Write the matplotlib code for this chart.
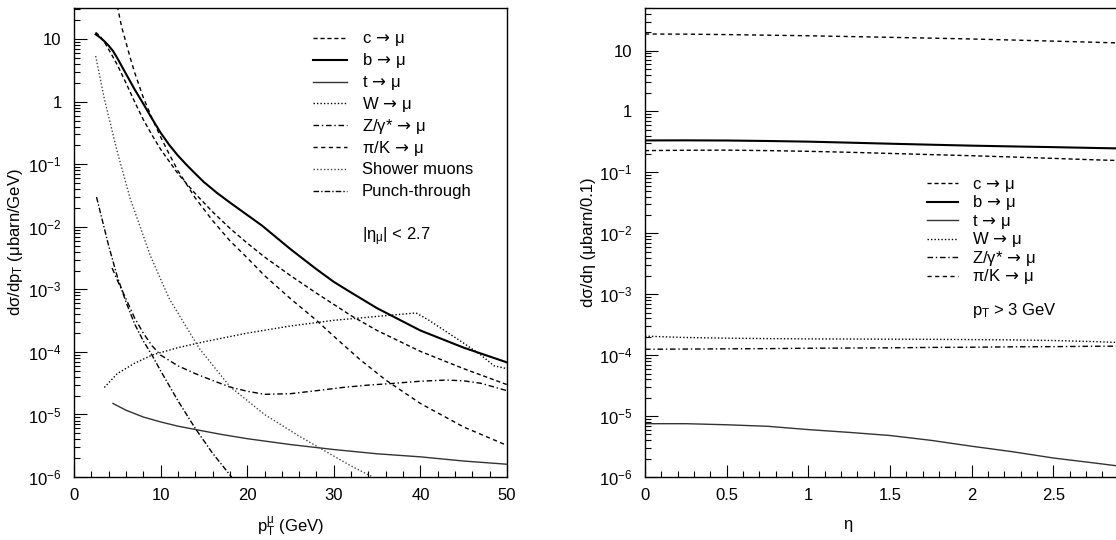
import math
import matplotlib
matplotlib.use("Agg")
import matplotlib.pyplot as plt
import matplotlib.ticker as mticker
from matplotlib.lines import Line2D

plt.rcParams['font.family'] = ['Liberation Sans', 'DejaVu Sans']
plt.rcParams['mathtext.fontset'] = 'custom'
plt.rcParams['mathtext.rm'] = 'Liberation Sans'
plt.rcParams['mathtext.it'] = 'Liberation Sans:italic'
plt.rcParams['mathtext.bf'] = 'Liberation Sans:bold'
plt.rcParams['mathtext.sf'] = 'DejaVu Sans'
plt.rcParams['font.size'] = 12

# ---- panel izquierdo: dsigma/dpT ----
pt_b = [2.5, 3, 3.5, 4, 4.5, 5, 6, 7, 8, 9, 10, 11, 12, 13, 14, 15, 16.5, 18, 20,
        21.7, 25, 28, 30, 32, 35, 40, 45, 50]
b_pt = [12, 10.7, 9.3, 7.9, 6.5, 5.0, 2.8, 1.58, 0.93, 0.54, 0.32, 0.204, 0.138,
        0.098, 0.071, 0.052, 0.035, 0.0245, 0.0155, 0.0105, 4.4e-3, 2.1e-3,
        1.32e-3, 8.9e-4, 5.0e-4, 2.2e-4, 1.17e-4, 6.8e-5]

pt_c = [2.5, 3, 3.5, 4, 4.5, 5, 6, 7, 8, 9, 10, 12, 14, 16, 18, 20, 22, 25, 28, 30,
        32, 35, 40, 45, 50]
c_pt = [12.9, 11.2, 9.1, 6.9, 5.2, 3.9, 2.0, 1.0, 0.52, 0.295, 0.174, 0.071, 0.034,
        0.0174, 9.5e-3, 5.5e-3, 3.3e-3, 1.66e-3, 8.7e-4, 5.75e-4, 3.8e-4, 2.2e-4,
        1.02e-4, 5.4e-5, 3.0e-5]

pt_pik = [5.0, 5.5, 6, 6.5, 7, 8, 9, 10, 11, 12, 14, 16, 18, 20, 22, 25, 28, 30, 33,
          36, 40, 45, 50]
pik_pt = [34, 15.8, 8.9, 5.0, 2.95, 1.17, 0.55, 0.275, 0.145, 0.079, 0.029, 0.0126,
          6.0e-3, 3.2e-3, 1.66e-3, 7.1e-4, 3.2e-4, 1.78e-4, 7.6e-5, 3.55e-5, 1.5e-5,
          6.3e-6, 3.2e-6]

pt_t = [4.5, 6, 8, 10, 12, 14, 17, 20, 25, 30, 35, 40, 45, 50]
t_pt = [1.5e-5, 1.17e-5, 9.1e-6, 7.6e-6, 6.5e-6, 5.75e-6, 4.8e-6, 4.1e-6, 3.3e-6,
        2.75e-6, 2.35e-6, 2.1e-6, 1.8e-6, 1.6e-6]

pt_w = [3.5, 5, 7, 9, 12, 15, 20, 25, 30, 35, 39.5, 41, 43, 45, 47, 48.5, 50]
w_pt = [2.7e-5, 4.5e-5, 6.6e-5, 8.9e-5, 1.17e-4, 1.45e-4, 2.0e-4, 2.6e-4, 3.2e-4,
        3.7e-4, 4.2e-4, 3.2e-4, 2.1e-4, 1.38e-4, 8.9e-5, 6.0e-5, 5.4e-5]

pt_z = [4.4, 5, 6, 7, 8, 9, 10, 12, 14, 16, 18, 20, 22, 25, 28, 31, 34, 37, 40,
        43, 45, 47, 50]
z_pt = [2.2e-3, 1.4e-3, 7.1e-4, 3.5e-4, 2.0e-4, 1.26e-4, 8.9e-5, 6.0e-5, 4.5e-5,
        3.5e-5, 2.75e-5, 2.35e-5, 2.1e-5, 2.15e-5, 2.4e-5, 2.7e-5, 2.95e-5,
        3.15e-5, 3.4e-5, 3.55e-5, 3.45e-5, 3.15e-5, 2.4e-5]

pt_sh = [2.5, 3.5, 5, 6.5, 8.8, 11, 14.5, 18, 22, 26, 29.2, 32, 34.5]
sh_pt = [5.4, 1.12, 0.158, 0.028, 3.5e-3, 7.1e-4, 1.12e-4, 2.8e-5, 1.0e-5, 4.5e-6,
         2.5e-6, 1.5e-6, 1.0e-6]

pt_pu = [2.6, 4, 5, 6, 7, 8, 9, 10, 12, 14, 16, 18.2]
pu_pt = [0.03, 5.0e-3, 1.6e-3, 6.3e-4, 2.8e-4, 1.5e-4, 8.9e-5, 5.0e-5, 1.66e-5,
         6.0e-6, 2.4e-6, 1.0e-6]

# ---- panel derecho: dsigma/deta ----
eta = [0, 0.25, 0.5, 0.75, 1, 1.25, 1.5, 1.75, 2, 2.25, 2.5, 2.75, 3.0]
pik_eta = [18.7, 18.6, 18.3, 17.9, 17.5, 17.0, 16.5, 16.0, 15.5, 14.9, 14.3, 13.7, 13.1]
b_eta = [0.335, 0.336, 0.334, 0.328, 0.32, 0.308, 0.296, 0.285, 0.275, 0.267, 0.26,
         0.252, 0.245]
c_eta = [0.228, 0.231, 0.232, 0.228, 0.222, 0.214, 0.205, 0.196, 0.188, 0.179, 0.170,
         0.161, 0.154]
w_eta = [2.05e-4, 1.95e-4, 1.9e-4, 1.87e-4, 1.85e-4, 1.84e-4, 1.83e-4, 1.82e-4, 1.8e-4,
         1.78e-4, 1.74e-4, 1.67e-4, 1.58e-4]
z_eta = [1.25e-4, 1.26e-4, 1.27e-4, 1.28e-4, 1.3e-4, 1.31e-4, 1.32e-4, 1.34e-4, 1.35e-4,
         1.37e-4, 1.38e-4, 1.4e-4, 1.41e-4]
t_eta = [7.5e-6, 7.5e-6, 7.2e-6, 6.8e-6, 6.0e-6, 5.4e-6, 4.8e-6, 4.0e-6, 3.2e-6, 2.6e-6,
         2.05e-6, 1.7e-6, 1.4e-6]

decadas = [1e-6, 1e-5, 1e-4, 1e-3, 1e-2, 1e-1, 1, 10]

flecha = r'$\,\mathsf{\rightarrow}\,$'
etiquetas = ['c' + flecha + 'μ', 'b' + flecha + 'μ', 't' + flecha + 'μ',
             'W' + flecha + 'μ', 'Z/γ*' + flecha + 'μ', 'π/K' + flecha + 'μ',
             'Shower muons', 'Punch-through']

# estilos (c, b, t, W, Z, pi/K, shower, punch)
st_c = dict(color='k', lw=1.0, ls=(0, (3, 2)))
st_b = dict(color='k', lw=1.5, ls='-')
st_t = dict(color='#333333', lw=1.0, ls='-')
st_w = dict(color='k', lw=1.0, ls=(0, (1, 1.5)))
st_z = dict(color='k', lw=1.0, ls=(0, (4, 2, 1, 2)))
st_pik = dict(color='k', lw=1.0, ls=(0, (3, 2.5)))
st_sh = dict(color='#444444', lw=1.0, ls=(0, (1, 1.5)))
st_pu = dict(color='k', lw=1.0, ls=(0, (4, 1.5, 1, 1.5)))
estilos = [st_c, st_b, st_t, st_w, st_z, st_pik, st_sh, st_pu]

W_PX, H_PX = 1116, 540


def fmt_log(v, pos):
    if abs(v - 1) < 1e-9:
        return '1'
    if abs(v - 10) < 1e-9:
        return '10'
    e = int(round(math.log10(v)))
    return r'$10^{%d}$' % e


def estilo_ejes(ax):
    ax.set_yscale('log')
    ax.yaxis.set_major_locator(mticker.FixedLocator(decadas))
    ax.yaxis.set_minor_locator(mticker.LogLocator(base=10, subs=range(2, 10), numticks=20))
    ax.yaxis.set_major_formatter(mticker.FuncFormatter(fmt_log))
    ax.yaxis.set_minor_formatter(mticker.NullFormatter())
    ax.tick_params(which='both', direction='in', top=False, right=False, labelsize=12)
    ax.tick_params(which='major', length=9, width=0.8)
    ax.tick_params(which='minor', length=4.5, width=0.8)
    ax.tick_params(axis='y', pad=9)
    ax.tick_params(axis='x', pad=8)
    for s in ax.spines.values():
        s.set_linewidth(1.0)


def leyenda(fig, n, x0, x1, xt, y0, dy):
    # leyenda hecha a mano, en pixeles de la figura
    for i in range(n):
        y = H_PX - (y0 + i * dy)
        fig.add_artist(Line2D([x0 / W_PX, x1 / W_PX], [y / H_PX, y / H_PX],
                              transform=fig.transFigure, **estilos[i]))
        fig.text(xt / W_PX, (y - 5.5) / H_PX, etiquetas[i], va='baseline',
                 ha='left', fontsize=12)


fig = plt.figure(figsize=(11.16, 5.4), dpi=100)

ax1 = fig.add_axes([74 / W_PX, 63 / H_PX, 433 / W_PX, 469 / H_PX])
ax1.plot(pt_c, c_pt, **st_c)
ax1.plot(pt_b, b_pt, **st_b)
ax1.plot(pt_t, t_pt, **st_t)
ax1.plot(pt_w, w_pt, **st_w)
ax1.plot(pt_z, z_pt, **st_z)
ax1.plot(pt_pik, pik_pt, **st_pik)
ax1.plot(pt_sh, sh_pt, **st_sh)
ax1.plot(pt_pu, pu_pt, **st_pu)
estilo_ejes(ax1)
ax1.set_xlim(0, 50)
ax1.set_ylim(1e-6, 31.6)
ax1.xaxis.set_major_locator(mticker.MultipleLocator(10))
ax1.xaxis.set_minor_locator(mticker.MultipleLocator(2))
ax1.set_xlabel(r'p$_{\mathrm{T}}^{\mathrm{\mu}}$ (GeV)', fontsize=12)
ax1.set_ylabel(r'dσ/dp$_{\mathrm{T}}$ (μbarn/GeV)', fontsize=12)
ax1.xaxis.set_label_coords(0.5, -0.08)
ax1.yaxis.set_label_coords(-0.113, 0.5)
leyenda(fig, 8, 313, 347, 362, 38, 21.8)
fig.text(362 / W_PX, (H_PX - 240.5) / H_PX, r'|η$_{\mathrm{\mu}}$| < 2.7',
         va='baseline', ha='left', fontsize=12)

ax2 = fig.add_axes([645 / W_PX, 63 / H_PX, 490 / W_PX, 469 / H_PX])
ax2.plot(eta, c_eta, **st_c)
ax2.plot(eta, b_eta, **st_b)
ax2.plot(eta, t_eta, **st_t)
ax2.plot(eta, w_eta, **st_w)
ax2.plot(eta, z_eta, **st_z)
ax2.plot(eta, pik_eta, **st_pik)
estilo_ejes(ax2)
ax2.set_xlim(0, 3.0)
ax2.set_ylim(1e-6, 50)
ax2.xaxis.set_major_locator(mticker.FixedLocator([0, 0.5, 1, 1.5, 2, 2.5]))
ax2.xaxis.set_minor_locator(mticker.MultipleLocator(0.1))
ax2.xaxis.set_major_formatter(mticker.FuncFormatter(lambda v, p: '%g' % v))
ax2.set_xlabel('η', fontsize=12)
ax2.set_ylabel(r'dσ/dη (μbarn/0.1)', fontsize=12)
ax2.xaxis.set_label_coords((848 - 645) / 490, -0.085)
ax2.yaxis.set_label_coords(-0.10, 0.5)
leyenda(fig, 6, 927, 958, 972, 183, 18.6)
fig.text(972 / W_PX, (H_PX - 315.5) / H_PX, r'p$_{\mathrm{T}}$ > 3 GeV',
         va='baseline', ha='left', fontsize=12)

fig.savefig('out.png', dpi=100)
